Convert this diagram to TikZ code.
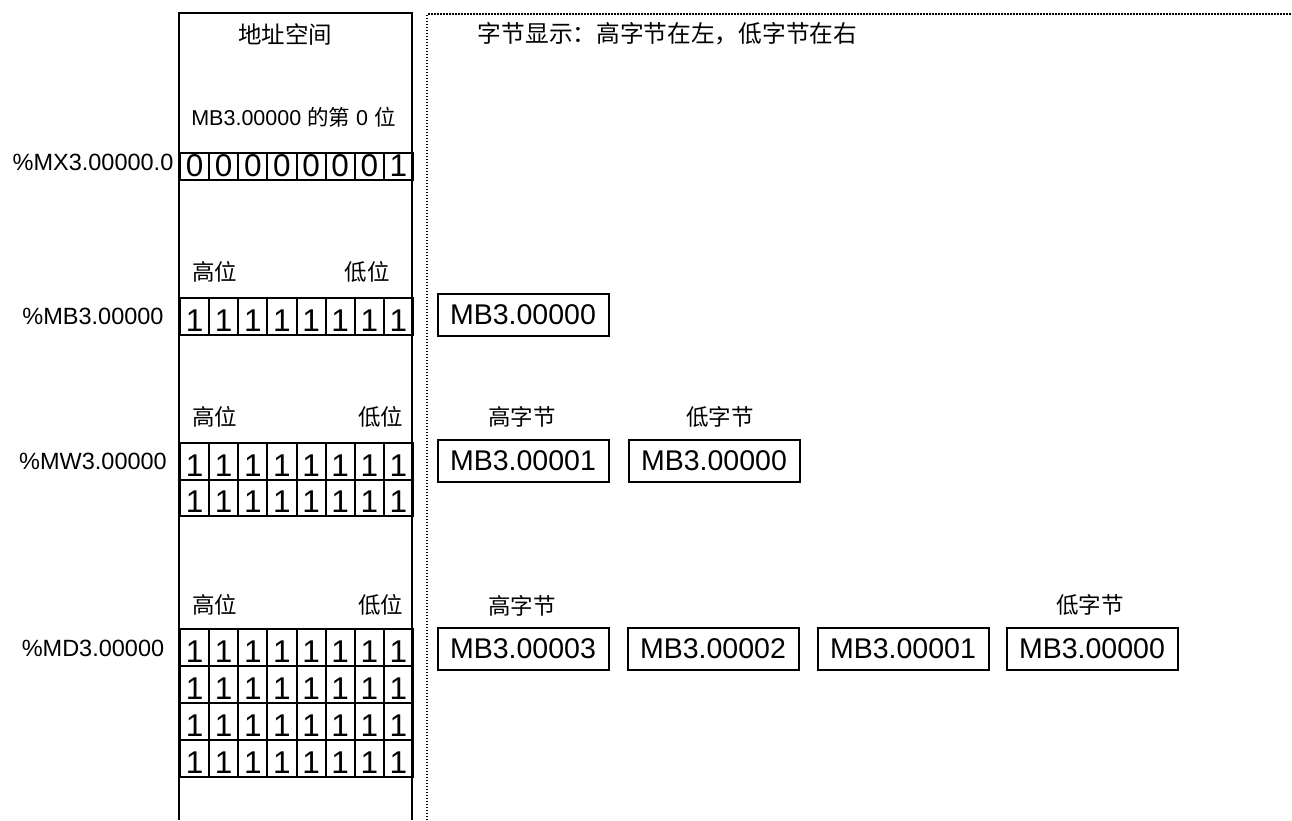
\documentclass[tikz,border=0pt]{standalone}
\usepackage{fontspec}
\setmainfont{Liberation Sans}
\newfontfamily\cjk{Noto Sans CJK SC}
\newcommand\bitrow[5]{% #1 top y, #2 height, #3 text height, #4 name, #5 digits
  \foreach \d [count=\i from 0] in {#5} {
    \node[bitcell, minimum height=#2pt, text height=#3pt] (#4\i) at ({179+\i*29.125}, #1) {\d};
  }}
\begin{document}
\begin{tikzpicture}[x=1pt,y=-1pt,
  bitcell/.style={draw, line width=2pt, minimum width=29.125pt, inner sep=0pt,
    text depth=0pt, anchor=north west, font=\fontsize{31.5}{31.5}\selectfont},
  mbbox/.style={draw, line width=2pt, minimum width=171pt, minimum height=42pt,
    inner sep=0pt, font=\fontsize{28.5}{28.5}\selectfont},
  addrlabel/.style={font=\fontsize{23.5}{23.5}\selectfont},
  cjklabel/.style={font=\cjk\fontsize{22.5}{22.5}\selectfont},
  frame/.style={line width=2pt},
  sep/.style={line width=1.5pt, dash pattern=on 1.5pt off 1.5pt}
]
\useasboundingbox (0,0) rectangle (1292,820);
\fill[white] (0,0) rectangle (1292,820);

% address space column
\draw[frame] (179,820) -- (179,13) -- (412,13) -- (412,820);
\draw[sep] (427,820) -- (427,14) -- (1292,14);

\node[font=\cjk\fontsize{23.5}{23.5}\selectfont] (title) at (285,34) {地址空间};
\node[font=\fontsize{21.5}{21.5}\selectfont] (bitnote) at (293.5,117) {MB3.00000 {\cjk 的第} 0 {\cjk 位}};
\node[font=\cjk\fontsize{23.7}{23.7}\selectfont] (header) at (667.5,34) {字节显示：高字节在左，低字节在右};

% %MX row
\bitrow{152}{27}{20}{mx}{0,0,0,0,0,0,0,1}
\node[addrlabel] (lmx) at (93,162) {\%MX3.00000.0};

% %MB row
\node[cjklabel] (mbhi) at (214.5,272) {高位};
\node[cjklabel] (mblo) at (367,272) {低位};
\bitrow{297}{36.5}{29.5}{mb}{1,1,1,1,1,1,1,1}
\node[addrlabel] (lmb) at (93,316) {\%MB3.00000};
\node[mbbox] (bmb) at (523,315) {MB3.00000};

% %MW rows
\node[cjklabel] (mwhi) at (214.5,417) {高位};
\node[cjklabel] (mwlo) at (380.5,417) {低位};
\bitrow{442}{36.5}{29.5}{mwa}{1,1,1,1,1,1,1,1}
\bitrow{478.5}{36.5}{29.5}{mwb}{1,1,1,1,1,1,1,1}
\node[addrlabel] (lmw) at (93,461) {\%MW3.00000};
\node[cjklabel] (mwhb) at (522,417) {高字节};
\node[cjklabel] (mwlb) at (720,417) {低字节};
\node[mbbox] (bmw1) at (523,461) {MB3.00001};
\node[mbbox] (bmw0) at (714,461) {MB3.00000};

% %MD rows
\node[cjklabel] (mdhi) at (214.5,605) {高位};
\node[cjklabel] (mdlo) at (380.5,605) {低位};
\bitrow{628}{37}{30}{mda}{1,1,1,1,1,1,1,1}
\bitrow{665}{37}{30}{mdb}{1,1,1,1,1,1,1,1}
\bitrow{702}{37}{30}{mdc}{1,1,1,1,1,1,1,1}
\bitrow{739}{37}{30}{mdd}{1,1,1,1,1,1,1,1}
\node[addrlabel] (lmd) at (93,648) {\%MD3.00000};
\node[cjklabel] (mdhb) at (522,606) {高字节};
\node[cjklabel] (mdlb) at (1090,605) {低字节};
\node[mbbox] (bmd3) at (523,648.5) {MB3.00003};
\node[mbbox] (bmd2) at (713,648.5) {MB3.00002};
\node[mbbox] (bmd1) at (903,648.5) {MB3.00001};
\node[mbbox] (bmd0) at (1092,648.5) {MB3.00000};
\end{tikzpicture}
\end{document}
